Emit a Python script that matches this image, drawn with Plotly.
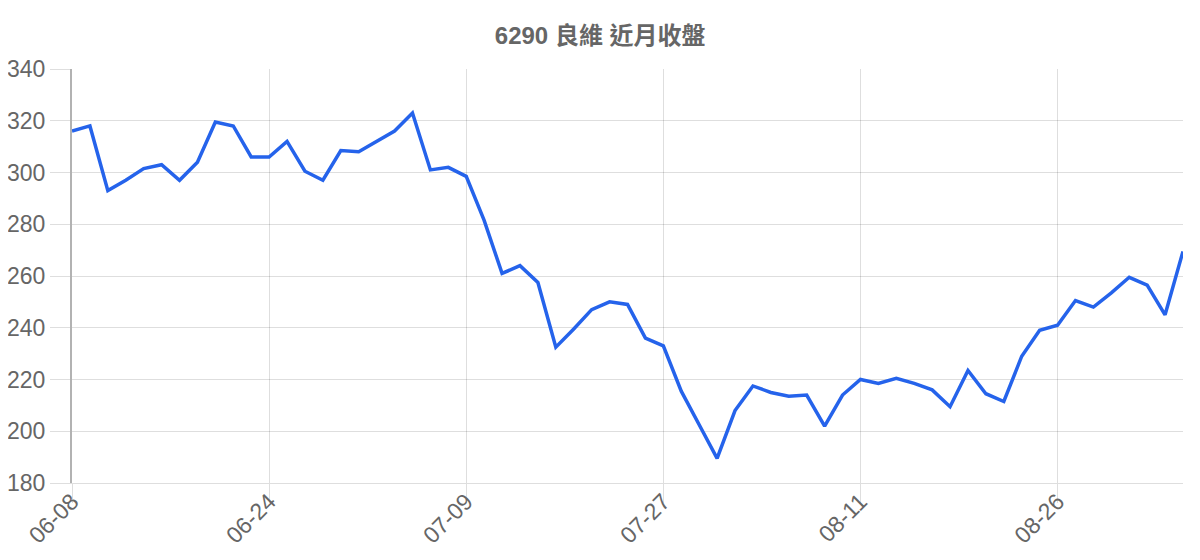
"""6290 良維 近月收盤 - line chart recreated with Plotly."""

import plotly.graph_objects as go

# trading days (MM-DD)
dates = [
    "06-08", "06-09", "06-10", "06-11", "06-15", "06-16", "06-17", "06-18",
    "06-21", "06-22", "06-23", "06-24", "06-25", "06-28", "06-29", "06-30",
    "07-01", "07-02", "07-05", "07-06", "07-07", "07-08", "07-09", "07-12",
    "07-13", "07-14", "07-15", "07-16", "07-19", "07-20", "07-21", "07-22",
    "07-23", "07-27", "07-28", "07-29", "07-30", "08-02", "08-03", "08-04",
    "08-05", "08-06", "08-09", "08-10", "08-11", "08-12", "08-13", "08-16",
    "08-17", "08-18", "08-19", "08-20", "08-23", "08-24", "08-25", "08-26",
    "08-27", "08-30", "08-31", "09-01", "09-02", "09-03", "09-06",
]

# closing prices
close = [
    316, 318, 293, 297, 301.5, 303, 297, 304, 319.5, 318, 306, 306,
    312, 300.5, 297, 308.5, 308, 312, 316, 323, 301, 302, 298.5, 281.5,
    261, 264, 257.5, 232.5, 239.5, 247, 250, 249, 236, 233, 215.5, 202.5,
    189.5, 208, 217.5, 215, 213.5, 214, 202, 214, 220, 218.5, 220.5, 218.5,
    216, 209.5, 223.5, 214.5, 211.5, 229, 239, 241, 250.5, 248, 253.5, 259.5,
    256.5, 245, 269.5,
]

tick_dates = dates[::11]
y_ticks = [180, 200, 220, 240, 260, 280, 300, 320, 340]

title = "6290 良維 近月收盤"

grid = "rgba(0,0,0,0.13)"
text_gray = "#666666"
font_family = "Liberation Sans, Arial, Noto Sans CJK TC, sans-serif"

fig = go.Figure(go.Scatter(
    x=dates, y=close, mode="lines",
    line=dict(color="#2563eb", width=3.5),
    hovertemplate="%{x}: %{y}<extra></extra>",
))

# the page body adds an 8px offset, so margins are trimmed to match
fig.update_layout(
    width=1200, height=560,
    template="plotly_white",
    plot_bgcolor="white", paper_bgcolor="white",
    margin=dict(l=64, r=25, t=61, b=85),
    showlegend=False,
    font=dict(family=font_family, color=text_gray, size=23),
    title=dict(
        text=f"<b>{title}</b>", x=0.4935, xanchor="center",
        y=0.951, yanchor="middle",
        font=dict(family=font_family, size=24, color=text_gray),
    ),
    xaxis=dict(
        type="category", range=[0, len(dates) - 1], automargin=False,
        tickmode="array", tickvals=tick_dates, ticktext=tick_dates,
        tickangle=-45, ticks="outside", ticklen=19, tickcolor=grid,
        ticklabelstandoff=-24,
        showgrid=True, gridcolor=grid, gridwidth=1,
        showline=True, linecolor=grid, linewidth=1, zeroline=False,
        tickfont=dict(size=23, color=text_gray),
    ),
    yaxis=dict(
        range=[180, 340], tickmode="array", tickvals=y_ticks, automargin=False,
        ticks="outside", ticklen=20, tickcolor=grid,
        showgrid=True, gridcolor=grid, gridwidth=1,
        showline=True, linecolor="rgba(0,0,0,0.3)", linewidth=2,
        zeroline=False,
        tickfont=dict(size=23, color=text_gray),
    ),
)

fig.write_html("out.html")
